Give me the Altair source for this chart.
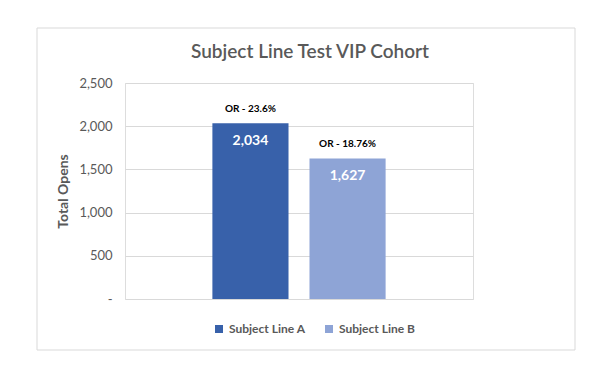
import altair as alt
import pandas as pd

series = ["Subject Line A", "Subject Line B"]
opens = [2034, 1627]
rates = ["OR - 23.6%", "OR - 18.76%"]
value_labels = ["2,034", "1,627"]
y_ticks = [0, 500, 1000, 1500, 2000, 2500]
colors = ["#3861AA", "#8EA4D6"]

df = pd.DataFrame({"series": series, "opens": opens, "rate": rates, "vlabel": value_labels})

FONT = "Lato"
GRAY = "#595959"

x = alt.X("series:N", axis=None, sort=series,
          scale=alt.Scale(paddingInner=0.216, paddingOuter=0.9))
y = alt.Y("opens:Q",
          scale=alt.Scale(domain=[0, 2500], nice=False),
          axis=alt.Axis(values=y_ticks, title="Total Opens", domain=False, ticks=False,
                        labelExpr="datum.value == 0 ? '-' : format(datum.value, ',')",
                        labelFont=FONT, labelFontSize=13, labelColor=GRAY, labelPadding=13,
                        titleFont=FONT, titleFontSize=14, titleFontWeight="bold",
                        titleColor=GRAY, titlePadding=8,
                        gridColor="#d9d9d9", gridWidth=1))

border = alt.Chart(alt.Data(values=[{"k": 1}])).mark_rect(
    fill="transparent", stroke="#d9d9d9", strokeWidth=1
).encode(x=alt.value(-88), x2=alt.value(450), y=alt.value(-55), y2=alt.value(267))

bars = alt.Chart(df).mark_bar().encode(
    x=x, y=y,
    color=alt.Color("series:N", sort=series,
                    scale=alt.Scale(domain=series, range=colors),
                    legend=alt.Legend(title=None, orient="none", legendX=88, legendY=240,
                                      direction="horizontal", symbolType="square",
                                      symbolSize=64, symbolStrokeWidth=0,
                                      labelFont=FONT, labelFontSize=12,
                                      labelFontWeight="bold", labelColor=GRAY,
                                      labelOffset=4, columnPadding=17)),
)

rate_text = alt.Chart(df).mark_text(
    font=FONT, fontSize=10, fontWeight="bold", color="#000000", dy=-14, baseline="middle"
).encode(x=x, y=y, text="rate:N")

value_text = alt.Chart(df).mark_text(
    font=FONT, fontSize=14, fontWeight="bold", color="#ffffff", dy=18, baseline="middle"
).encode(x=x, y=y, text="vlabel:N")

chart = alt.layer(border, bars, rate_text, value_text).properties(
    width=348, height=216,
    padding={"left": 117, "top": 75, "right": 110, "bottom": 55},
    autosize=alt.AutoSizeParams(type="none"),
    title=alt.TitleParams("Subject Line Test VIP Cohort", font=FONT, fontSize=19,
                          fontWeight=600, color=GRAY, anchor="middle", dx=11, offset=14,
                          baseline="alphabetic", dy=63),
).configure_view(stroke=None).configure(background="white")

chart.save("out.html", embed_options={"renderer": "svg", "actions": False})
